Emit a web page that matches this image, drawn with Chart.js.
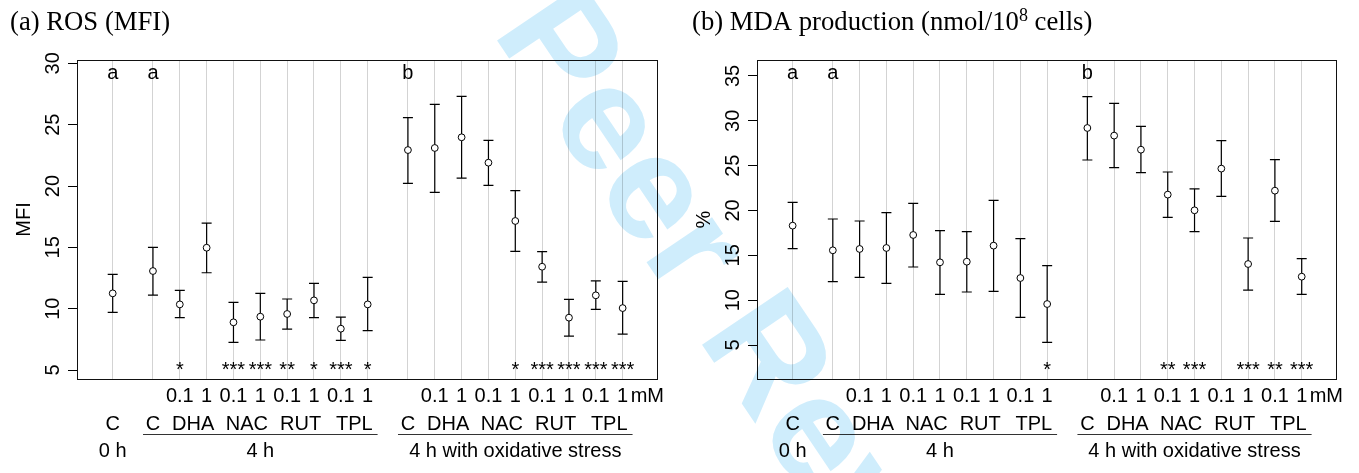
<!DOCTYPE html>
<html><head><meta charset="utf-8">
<script src="https://cdn.jsdelivr.net/npm/chart.js@4.4.1/dist/chart.umd.min.js"></script>
<style>
html,body{margin:0;padding:0;background:#fff;}
#wrap{position:relative;width:1359px;height:473px;overflow:hidden;background:#fff;}
.panel{position:absolute;top:0;height:473px;}
#pa{left:0;width:680px;} #pb{left:680px;width:679px;}
#wm{position:absolute;left:0;top:0;mix-blend-mode:multiply;pointer-events:none;}
</style></head><body>
<div id="wrap">
<div class="panel" id="pa"><canvas id="ca"></canvas></div>
<div class="panel" id="pb"><canvas id="cb"></canvas></div>
<canvas id="wm" width="1359" height="473"></canvas>
</div>
<script>
// ---- categories / labels ----
const positions = [0, 1.5,2.5,3.5,4.5,5.5,6.5,7.5,8.5,9.5, 11,12,13,14,15,16,17,18,19];
const doseLabels = ['', '', '0.1','1','0.1','1','0.1','1','0.1','1', '', '0.1','1','0.1','1','0.1','1','0.1','1'];
const doseUnit = 'mM';
const agentNames = ['C','C','DHA','NAC','RUT','TPL','C','DHA','NAC','RUT','TPL'];
const agentFirst = [0,1,2,4,6,8,10,11,13,15,17];
const agentLast  = [0,1,3,5,7,9,10,12,14,16,18];
const periodNames = ['0 h','4 h','4 h with oxidative stress'];
const periodFirst = [0,1,10];
const periodLast  = [0,9,18];
const groupLetters = ['a','a','','','','','','','','', 'b','','','','','','','',''];

// ---- (a) ROS (MFI) ----
const rosMean  = [11.25,13.07,10.35,14.97,8.89,9.35,9.57,10.68,8.37,10.35, 22.93,23.10,23.97,21.90,17.15,13.42,9.27,11.09,10.05];
const rosUpper = [12.80,15.00,11.50,16.98,10.52,11.25,10.79,12.07,9.32,12.55, 25.57,26.66,27.31,23.72,19.62,14.65,10.76,12.26,12.23];
const rosLower = [9.70,11.11,9.27,12.93,7.26,7.45,8.34,9.27,7.42,8.21, 20.22,19.48,20.65,20.05,14.67,12.17,7.77,9.95,7.93];
const rosStars = ['','','*','','***','***','**','*','***','*', '','','','','*','***','***','***','***'];
const rosTicks = [5,10,15,20,25,30];

// ---- (b) MDA production ----
const mdaMean  = [18.31,15.56,15.71,15.82,17.27,14.22,14.29,16.08,12.47,9.57, 29.20,28.35,26.78,21.77,20.02,24.67,14.03,22.21,12.62];
const mdaUpper = [20.91,19.05,18.83,19.76,20.80,17.75,17.64,21.13,16.86,13.85, 32.70,31.95,29.39,24.29,22.40,27.79,16.93,25.67,14.63];
const mdaLower = [15.74,12.06,12.55,11.88,13.70,10.65,10.91,10.99,8.09,5.30, 25.63,24.78,24.22,19.24,17.64,21.58,11.13,18.79,10.65];
const mdaStars = ['','','','','','','','','','*', '','','','**','***','','***','**','***'];
const mdaTicks = [5,10,15,20,25,30,35];

const SANS = '"Liberation Sans", Arial, Helvetica, sans-serif';
const SERIF = '"Liberation Serif", "Times New Roman", serif';
const FS = 20;     // sans label size
const TS = 26.7;   // title size

function panelPlugin(cfg) {
  return {
    id: 'panelDecor',
    beforeDatasetsDraw(chart) {
      const {ctx, scales:{x, y}} = chart;
      ctx.save();
      ctx.strokeStyle = '#000';
      ctx.lineWidth = 1.2;
      positions.forEach((p, i) => {
        const px = x.getPixelForValue(p);
        const yu = y.getPixelForValue(cfg.upper[i]);
        const yl = y.getPixelForValue(cfg.lower[i]);
        ctx.beginPath();
        ctx.moveTo(px, yu); ctx.lineTo(px, yl);
        ctx.moveTo(px - 5, yu); ctx.lineTo(px + 5, yu);
        ctx.moveTo(px - 5, yl); ctx.lineTo(px + 5, yl);
        ctx.stroke();
      });
      ctx.restore();
    },
    afterDraw(chart) {
      const {ctx, chartArea: a, scales:{x, y}} = chart;
      ctx.save();
      // box
      ctx.strokeStyle = '#111'; ctx.lineWidth = 1;
      ctx.strokeRect(Math.round(a.left) + 0.5, Math.round(a.top) + 0.5,
                     Math.round(a.right - a.left), Math.round(a.bottom - a.top));
      ctx.fillStyle = '#000';
      // y tick labels (rotated)
      ctx.font = FS + 'px ' + SANS;
      ctx.textAlign = 'center'; ctx.textBaseline = 'alphabetic';
      cfg.ticks.forEach(t => {
        const py = y.getPixelForValue(t);
        ctx.save(); ctx.translate(a.left - 17.8, py); ctx.rotate(-Math.PI / 2);
        ctx.fillText(String(t), 0, 0); ctx.restore();
      });
      // y title
      ctx.save(); ctx.translate(a.left - 47, (a.top + a.bottom) / 2); ctx.rotate(-Math.PI / 2);
      ctx.fillText(cfg.yTitle, 0, 0); ctx.restore();
      // group letters
      positions.forEach((p, i) => {
        if (groupLetters[i]) ctx.fillText(groupLetters[i], x.getPixelForValue(p), a.top + 18.5);
      });
      // stars
      ctx.font = '20px ' + SANS;
      positions.forEach((p, i) => {
        const s = cfg.stars[i];
        if (!s) return;
        const m = ctx.measureText(s);
        const off = (m.actualBoundingBoxAscent - m.actualBoundingBoxDescent) / 2;
        ctx.fillText(s, x.getPixelForValue(p), a.bottom - 13 + off);
      });
      // dose row
      ctx.font = FS + 'px ' + SANS;
      positions.forEach((p, i) => {
        if (doseLabels[i]) ctx.fillText(doseLabels[i], x.getPixelForValue(p), a.bottom + 22.7);
      });
      ctx.textAlign = 'left';
      ctx.fillText(doseUnit, x.getPixelForValue(positions[positions.length - 1]) + 8, a.bottom + 22.7);
      ctx.textAlign = 'center';
      // agent row
      agentNames.forEach((n, k) => {
        const cx = (x.getPixelForValue(positions[agentFirst[k]]) + x.getPixelForValue(positions[agentLast[k]])) / 2;
        ctx.fillText(n, cx, a.bottom + 51);
      });
      // period row with underlines
      ctx.strokeStyle = '#333'; ctx.lineWidth = 1;
      periodNames.forEach((n, k) => {
        const x1 = x.getPixelForValue(positions[periodFirst[k]]);
        const x2 = x.getPixelForValue(positions[periodLast[k]]);
        if (periodFirst[k] !== periodLast[k]) {
          const ext = x.getPixelForValue(0.37) - x.getPixelForValue(0);
          ctx.beginPath();
          ctx.moveTo(x1 - ext, Math.round(a.bottom + 55) + 0.5);
          ctx.lineTo(x2 + ext, Math.round(a.bottom + 55) + 0.5);
          ctx.stroke();
        }
        ctx.fillText(n, (x1 + x2) / 2, a.bottom + 77.7);
      });
      // panel title
      ctx.textAlign = 'left';
      ctx.font = TS + 'px ' + SERIF;
      let tx = cfg.titleX;
      cfg.title.forEach(part => {
        if (part.sup) {
          ctx.font = '18px ' + SERIF;
          ctx.fillText(part.text, tx, 21);
          tx += ctx.measureText(part.text).width;
          ctx.font = TS + 'px ' + SERIF;
        } else {
          ctx.fillText(part.text, tx, 29.5);
          tx += ctx.measureText(part.text).width;
        }
      });
      ctx.restore();
    }
  };
}

function makeChart(id, mean, cfg, ymin, ymax) {
  return new Chart(document.getElementById(id), {
    type: 'scatter',
    data: {
      datasets: [{
        data: positions.map((p, i) => ({x: p, y: mean[i]})),
        pointRadius: 3.4,
        pointBorderWidth: 1,
        pointBorderColor: '#000',
        pointBackgroundColor: '#fff',
        showLine: false
      }]
    },
    options: {
      responsive: true,
      maintainAspectRatio: false,
      animation: false,
      devicePixelRatio: 1,
      events: [],
      layout: {padding: {top: 60, right: 23, left: 0, bottom: 0}},
      plugins: {legend: {display: false}, tooltip: {enabled: false}},
      scales: {
        x: {
          type: 'linear', min: -1.33, max: 20.28,
          afterBuildTicks: s => { s.ticks = positions.map(v => ({value: v})); },
          afterFit: s => { s.height = 94; },
          ticks: {display: false},
          grid: {color: '#d3d3d3', lineWidth: 1, drawTicks: false},
          border: {display: false}
        },
        y: {
          type: 'linear', min: ymin, max: ymax,
          afterBuildTicks: s => { s.ticks = cfg.ticks.map(v => ({value: v})); },
          afterFit: s => { s.width = 77; },
          ticks: {display: false},
          grid: {drawOnChartArea: false, drawTicks: true, tickLength: 9, color: '#000', lineWidth: 1},
          border: {display: true, color: '#000', width: 1}
        }
      }
    },
    plugins: [panelPlugin(cfg)]
  });
}

makeChart('ca', rosMean, {
  upper: rosUpper, lower: rosLower, stars: rosStars, ticks: rosTicks, yTitle: 'MFI',
  titleX: 10, title: [{text: '(a) ROS (MFI)'}]
}, 4.27, 30.27);

makeChart('cb', mdaMean, {
  upper: mdaUpper, lower: mdaLower, stars: mdaStars, ticks: mdaTicks, yTitle: '%',
  titleX: 12, title: [{text: '(b) MDA production (nmol/10'}, {text: '8', sup: true}, {text: ' cells)'}]
}, 1.21, 36.78);

// watermark overlay
(function () {
  const c = document.getElementById('wm').getContext('2d');
  const size = 150;
  c.font = 'bold ' + size + 'px ' + SANS;
  c.fillStyle = 'rgb(207,237,252)';
  c.translate(603, 128);
  c.rotate(56 * Math.PI / 180);
  const pre = c.measureText('For P').width + c.measureText('e').width / 2;
  c.fillText('For Peer Review', -pre, 0.26 * size);
})();
</script>
</body></html>
